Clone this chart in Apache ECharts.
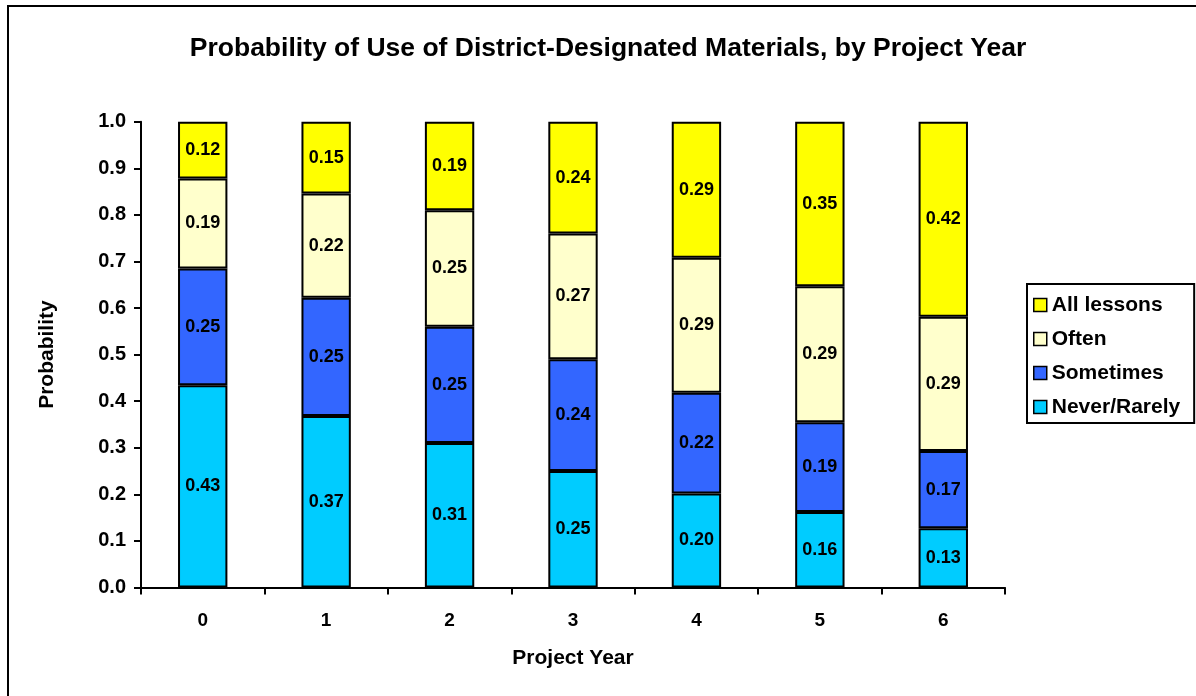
<!DOCTYPE html>
<html><head><meta charset="utf-8">
<script src="https://cdn.jsdelivr.net/npm/echarts@6/dist/echarts.min.js"></script>
<style>html,body{margin:0;padding:0;background:#fff}#c{width:1196px;height:696px}</style>
</head><body><div id="c"></div>
<script>
var categories = ['0','1','2','3','4','5','6'];
var neverRarely = [0.434, 0.368, 0.31, 0.25, 0.202, 0.162, 0.127];
var sometimes   = [0.251, 0.254, 0.25, 0.24, 0.216, 0.193, 0.166];
var often       = [0.193, 0.224, 0.25, 0.27, 0.29, 0.292, 0.288];
var allLessons  = [0.122, 0.154, 0.19, 0.24, 0.292, 0.353, 0.419];
var yTicks = [0,0.1,0.2,0.3,0.4,0.5,0.6,0.7,0.8,0.9,1.0];

var FONT = '"Liberation Sans", Arial, sans-serif';
function mk(name, data, color){
  return {
    name: name, type: 'bar', stack: 'p', data: data, barWidth: '40%',
    itemStyle: {color: color, borderColor: '#000', borderWidth: 2},
    label: {show: true, position: 'inside', color: '#000', fontWeight: 'bold', fontSize: 18, fontFamily: FONT,
      formatter: function(p){ return p.value.toFixed(2); }}
  };
}
var chart = echarts.init(document.getElementById('c'), null, {renderer:'canvas'});
chart.setOption({
  animation: false,
  backgroundColor: '#fff',
  title: {text: 'Probability of Use of District-Designated Materials, by Project Year', left: 603, top: 30, textAlign: 'center',
    textStyle: {fontFamily: FONT, fontWeight: 'bold', fontSize: 26.5, color: '#000'}},
  graphic: [{type: 'rect', shape: {x: 8, y: 6, width: 1400, height: 900}, style: {fill: 'none', stroke: '#000', lineWidth: 2}, z: 100}],
  grid: {left: 141, right: 191, top: 121.7, bottom: 108.5},
  legend: {
    data: ['All lessons','Often','Sometimes','Never/Rarely'],
    orient: 'vertical', left: 1027, top: 284,
    padding: [9, 14, 4, 6], itemGap: 10, itemWidth: 13, itemHeight: 13,
    borderColor: '#000', borderWidth: 2, icon: 'rect',
    itemStyle: {borderColor: '#000', borderWidth: 1.5},
    textStyle: {fontFamily: FONT, fontWeight: 'bold', fontSize: 21, color: '#000', lineHeight: 24}
  },
  xAxis: {
    type: 'category', data: categories, boundaryGap: true,
    name: 'Project Year', nameLocation: 'middle', nameGap: 60,
    nameTextStyle: {fontFamily: FONT, fontWeight: 'bold', fontSize: 21, color: '#000'},
    axisLine: {lineStyle: {color: '#000', width: 2}},
    axisTick: {show: true, length: 7, lineStyle: {color: '#000', width: 2}},
    axisLabel: {fontFamily: FONT, fontWeight: 'bold', fontSize: 19, color: '#000', margin: 24}
  },
  yAxis: {
    type: 'value', min: 0, max: 1, interval: 0.1,
    name: 'Probability', nameLocation: 'middle', nameGap: 83, nameRotate: 90,
    nameTextStyle: {fontFamily: FONT, fontWeight: 'bold', fontSize: 21, color: '#000'},
    axisLine: {show: true, lineStyle: {color: '#000', width: 2}},
    axisTick: {show: true, length: 7, lineStyle: {color: '#000', width: 2}},
    splitLine: {show: false},
    axisLabel: {fontFamily: FONT, fontWeight: 'bold', fontSize: 20, color: '#000', margin: 15,
      formatter: function(v){ return v.toFixed(1); }}
  },
  series: [
    mk('Never/Rarely', neverRarely, '#00CCFF'),
    mk('Sometimes', sometimes, '#3366FF'),
    mk('Often', often, '#FFFFCC'),
    mk('All lessons', allLessons, '#FFFF00')
  ]
});
</script></body></html>
